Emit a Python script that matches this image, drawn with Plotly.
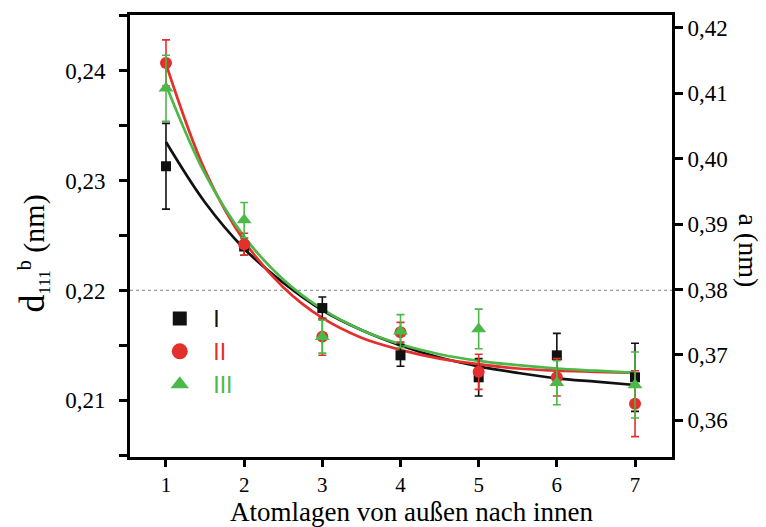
import plotly.graph_objects as go

# ---------------- data ----------------
layers = [1, 2, 3, 4, 5, 6, 7]

d_I = [0.2313, 0.2240, 0.2184, 0.2141, 0.2121, 0.2141, 0.2121]
e_I = [0.0039, 0.0008, 0.0010, 0.0010, 0.0017, 0.0020, 0.0031]

d_II = [0.2407, 0.2242, 0.2158, 0.2162, 0.2126, 0.2121, 0.2097]
e_II = [0.0021, 0.0010, 0.0017, 0.0009, 0.0016, 0.0017, 0.0030]

d_III = [0.2384, 0.2264, 0.2158, 0.2163, 0.2165, 0.2116, 0.2114]
e_III = [0.0030, 0.0016, 0.0015, 0.0015, 0.0018, 0.0020, 0.0030]

# fitted curves
fit_x = [1, 1.5, 2, 2.5, 3, 3.5, 4, 4.5, 5, 5.5, 6, 6.5, 7]
fit_I = [0.2335, 0.2280, 0.2238, 0.2207, 0.2182, 0.2164, 0.2150, 0.2139, 0.2131, 0.2125, 0.2120, 0.2117, 0.2114]
fit_II = [0.2406, 0.2309, 0.2245, 0.2203, 0.2175, 0.2157, 0.2146, 0.2138, 0.2133, 0.2129, 0.2127, 0.2126, 0.2125]
fit_III = [0.2387, 0.2306, 0.2249, 0.2210, 0.2183, 0.2164, 0.2151, 0.2142, 0.2136, 0.2132, 0.2129, 0.2127, 0.2125]

left_ticks = [0.21, 0.22, 0.23, 0.24]
right_ticks = [0.36, 0.37, 0.38, 0.39, 0.40, 0.41, 0.42]
ref_level = 0.22

names = ["I", "II", "III"]
colors = ["#111111", "#e3302c", "#4cb847"]
symbols = ["square", "circle", "triangle-up"]
msizes = [10, 12, 13]
leg_sizes = [14, 16, 17]

SERIF = "Liberation Serif, Times New Roman, serif"
W, H = 766, 527
ml, mr, mt, mb = 130, 94, 12, 70
PW, PH = W - ml - mr, H - mt - mb

fig = go.Figure()

series = [(d_I, e_I, fit_I), (d_II, e_II, fit_II), (d_III, e_III, fit_III)]
for (d, e, f), c in zip(series, colors):
    fig.add_trace(go.Scatter(x=fit_x, y=f, mode="lines", line=dict(color=c, width=2.7, shape="spline"),
                             showlegend=False, hoverinfo="skip"))
for (d, e, f), c, s, ms in zip(series, colors, symbols, msizes):
    fig.add_trace(go.Scatter(x=layers, y=d, mode="markers",
                             marker=dict(color=c, symbol=s, size=ms, line=dict(width=0)),
                             error_y=dict(type="data", array=e, visible=True, color=c, thickness=1.6, width=4),
                             showlegend=False))
# legend entries
for n, c, s, ls in zip(names, colors, symbols, leg_sizes):
    fig.add_trace(go.Scatter(x=[None], y=[None], mode="markers", yaxis="y2",
                             marker=dict(color=c, symbol=s, size=ls, line=dict(width=0)),
                             name='<span style="color:%s">%s</span>' % (c, n), showlegend=True))

x_lo = 1 - 36 / 78.2
x_hi = 7 + 37 / 78.2

fig.add_shape(type="line", xref="paper", yref="y", x0=0, x1=1, y0=ref_level, y1=ref_level,
              line=dict(color="#9a9a9a", width=1.2, dash="dot"), layer="below")

ytickfont = dict(family=SERIF, size=23, color="black")
xtickfont = dict(family=SERIF, size=21, color="black")
fig.update_layout(
    width=W, height=H, margin=dict(l=ml, r=mr, t=mt, b=mb),
    paper_bgcolor="white", plot_bgcolor="white",
    separators=",.",
    xaxis=dict(range=[x_lo, x_hi], tickvals=layers, ticks="outside", ticklen=7, tickwidth=3,
               tickcolor="black", showline=True, linewidth=3, linecolor="black", mirror=True,
               showgrid=False, zeroline=False, tickfont=xtickfont),
    yaxis=dict(range=[0.20485, 0.24506], tickvals=left_ticks, tickformat=".2f", ticks="outside",
               ticklen=8, tickwidth=3, tickcolor="black", showline=True, linewidth=3, linecolor="black",
               showgrid=False, zeroline=False, tickfont=ytickfont, ticklabelstandoff=9,
               minor=dict(dtick=0.005, tick0=0.21, ticks="outside", ticklen=8, tickwidth=3, tickcolor="black",
                          showgrid=False)),
    yaxis2=dict(range=[0.35438, 0.42197], overlaying="y", side="right", tickvals=right_ticks,
                tickformat=".2f", ticks="outside", ticklen=8, tickwidth=3, tickcolor="black",
                showline=True, linewidth=3, linecolor="black", showgrid=False, zeroline=False,
                tickfont=ytickfont),
    legend=dict(x=0.03, y=0.362, xanchor="left", yanchor="top", bgcolor="rgba(0,0,0,0)",
                font=dict(family="Liberation Sans", size=23), itemwidth=57, tracegroupgap=0),
    showlegend=True,
)

fig.add_annotation(xref="paper", yref="paper", x=(411 - ml) / PW, y=(H - mb - 528) / PH,
                   text="Atomlagen von außen nach innen", showarrow=False, xanchor="center", yanchor="bottom",
                   font=dict(family=SERIF, size=27, color="black"), borderpad=0)
fig.add_annotation(xref="paper", yref="paper", x=(33 - ml) / PW, y=(H - mb - 252) / PH,
                   text='<span style="font-size:36px">d</span><sub><span style="font-size:17px">111</span></sub>'
                        '<sup><span style="font-size:20px">b</span></sup> (nm)',
                   showarrow=False, textangle=-90, xanchor="center", yanchor="middle",
                   font=dict(family=SERIF, size=30, color="black"))
fig.add_annotation(xref="paper", yref="paper", x=(749 - ml) / PW, y=(H - mb - 249) / PH,
                   text="a (nm)", showarrow=False, textangle=90, xanchor="center", yanchor="middle",
                   font=dict(family=SERIF, size=28, color="black"))

fig.write_html("out.html")
